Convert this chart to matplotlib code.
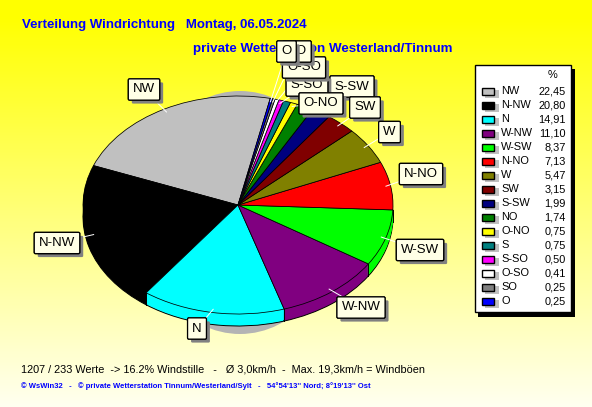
import numpy as np
import matplotlib
matplotlib.use("Agg")
import matplotlib.pyplot as plt
from matplotlib.patches import Rectangle, Ellipse
import matplotlib.patheffects as pe

plt.rcParams['font.family'] = ['Liberation Sans', 'DejaVu Sans']

# Legend order, biggest first
directions = ["NW", "N-NW", "N", "W-NW", "W-SW", "N-NO", "W", "SW", "S-SW", "NO", "O-NO", "S", "S-SO", "O-SO", "SO", "O"]
percent = [22.45, 20.80, 14.91, 11.10, 8.37, 7.13, 5.47, 3.15, 1.99, 1.74, 0.75, 0.75, 0.50, 0.41, 0.25, 0.25]
colors = ["#c0c0c0", "#000000", "#00ffff", "#800080", "#00ff00", "#ff0000", "#808000", "#800000",
          "#000080", "#008000", "#ffff00", "#008080", "#ff00ff", "#ffffff", "#808080", "#0000ff"]

# Where the note boxes sit (pixels), back to front
label_pos = {"S-SW": (352, 86.5), "S-SO": (307, 85.5), "SW": (365, 107.5), "O-NO": (321, 103.5),
             "O-SO": (304, 67.5), "W": (389.5, 132), "N-NO": (421, 174), "W-SW": (420, 250),
             "W-NW": (361, 307.5), "N": (197, 328.5), "N-NW": (57, 243), "NW": (144, 89.5),
             "SO": (297, 51.5), "O": (286.5, 51.5)}

W, H = 592, 407
fig = plt.figure(figsize=(W / 100, H / 100), dpi=100)

# Background gradient
bg = fig.add_axes([0, 0, 1, 1], zorder=0)
gradient = np.clip((np.arange(H) - 15) / (H - 15), 0, 1).reshape(-1, 1)
bg.imshow(gradient, extent=(0, W, H, 0), aspect='auto', vmin=0, vmax=1,
          cmap=matplotlib.colors.LinearSegmentedColormap.from_list("bg", ["#ffff00", "#fffff0"]))
bg.set_xlim(0, W)
bg.set_ylim(H, 0)
bg.axis('off')

bg.text(22, 25, "Verteilung Windrichtung   Montag, 06.05.2024", color="#0000ff", fontsize=9.58,
        fontweight='bold', va='center')
bg.text(193, 49, "private Wetterstation Westerland/Tinnum", color="#0000ff", fontsize=9.66,
        fontweight='bold', va='center')

# Pie: top surface is an ellipse, 155 x 109 px around (238, 205)
cx, cy, a, b, depth = 238, 205, 155, 109, 12
span = 1.25
pie_ax = fig.add_axes([(cx - span * a) / W, 1 - (cy + span * b) / H, 2 * span * a / W, 2 * span * b / H], zorder=1)
pie_ax.patch.set_alpha(0)

pie_ax.add_patch(Ellipse((2 / a, -7.5 / b), 2 * 100 / a, 2 * 121.5 / b, fc="#b4b4b4", ec='none', zorder=0))

start = 78
# side wall first: stacked copies going up to the top surface
for d in range(depth, 0, -1):
    edge = 'black' if d == depth else 'none'
    pie_ax.pie(percent, colors=colors, startangle=start, center=(0, -d / b), radius=1,
               wedgeprops=dict(edgecolor=edge, linewidth=0.7))
wedges, _ = pie_ax.pie(percent, colors=colors, startangle=start, center=(0, 0), radius=1,
                       wedgeprops=dict(edgecolor='black', linewidth=0.55))
for w in wedges:
    t = w.theta2 % 360
    if 180 < t < 360:
        x = np.cos(np.radians(t))
        y = np.sin(np.radians(t))
        pie_ax.plot([x, x], [y, y - depth / b], color='black', lw=0.7)
pie_ax.set_xlim(-span, span)
pie_ax.set_ylim(-span, span)
pie_ax.set_aspect('auto')
pie_ax.axis('off')

# Overlay in pixel coordinates
ov = fig.add_axes([0, 0, 1, 1], zorder=2)
ov.set_xlim(0, W)
ov.set_ylim(H, 0)
ov.axis('off')

mid = {}
for name, w in zip(directions, wedges):
    mid[name] = np.radians((w.theta1 + w.theta2) / 2)

for name in label_pos:
    lx, ly = label_pos[name]
    px = cx + 0.97 * a * np.cos(mid[name])
    py = cy - 0.97 * b * np.sin(mid[name])
    ov.plot([px, lx], [py, ly], color='white', lw=0.7)

shadow = [pe.withSimplePatchShadow(offset=(2.5, -2.5), shadow_rgbFace='#808080', alpha=1), pe.Normal()]
for i, name in enumerate(label_pos):
    lx, ly = label_pos[name]
    t = ov.text(lx, ly, name, fontsize=9.5, ha='center', va='center', color='black', zorder=5 + i,
                bbox=dict(boxstyle='round,pad=0.35,rounding_size=0.1', fc='#ffffe6', ec='black', lw=0.9))
    t.get_bbox_patch().set_path_effects(shadow)

# Legend table
ov.add_patch(Rectangle((478, 69), 97, 248, fc='black', ec='none'))
ov.add_patch(Rectangle((474.5, 65), 96, 247, fc='white', ec='black', lw=1))
ov.text(553, 75, "%", fontsize=7.9, ha='center', va='center', color='black')
for i, name in enumerate(directions):
    y = 91 + i * 14
    ov.add_patch(Rectangle((485, y - 1), 14, 8, fc='#c0c0c0', ec='none'))
    ov.add_patch(Rectangle((481.5, y - 3.5), 12, 7, fc=colors[i], ec='black', lw=1))
    ov.text(501, y, name, fontsize=7.9, ha='left', va='center', color='black')
    ov.text(566, y, f"{percent[i]:.2f}".replace('.', ','), fontsize=7.9, ha='right', va='center', color='black')

bg.text(21, 369, "1207 / 233 Werte  -> 16.2% Windstille   -   Ø 3,0km/h  -  Max. 19,3km/h = Windböen",
        fontsize=7.8, va='center', color='black')
bg.text(21, 386, "© WsWin32   -   © private Wetterstation Tinnum/Westerland/Sylt   -   54°54'13'' Nord; 8°19'13'' Ost",
        fontsize=5.5, fontweight='bold', va='center', color='#0000ff')

fig.savefig("out.png", dpi=100)
